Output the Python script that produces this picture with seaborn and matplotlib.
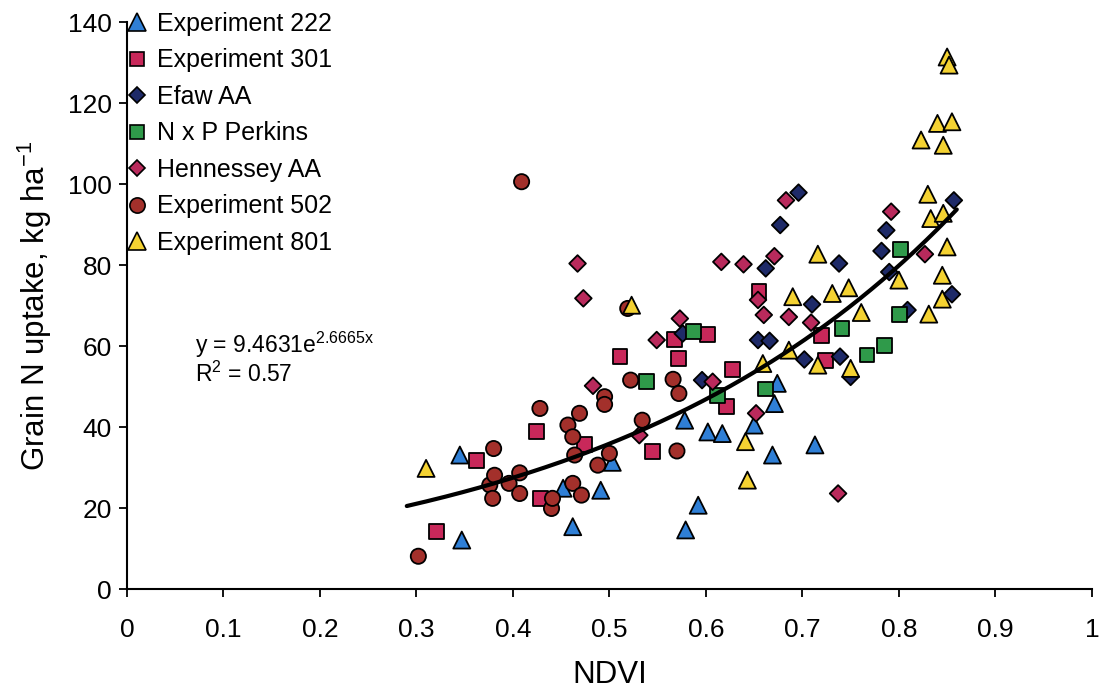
import numpy as np
import pandas as pd
import matplotlib
matplotlib.use("Agg")
import matplotlib.pyplot as plt
import seaborn as sns

# NDVI / grain N uptake (kg/ha) per experiment
exp222_ndvi = [0.345, 0.347, 0.452, 0.462, 0.491, 0.503, 0.578, 0.579, 0.592, 0.602,
               0.617, 0.650, 0.669, 0.671, 0.674, 0.713]
exp222_n = [33.1, 12.1, 24.9, 15.4, 24.4, 31.3, 41.7, 14.6, 20.7, 38.8,
            38.4, 40.5, 33.1, 45.8, 50.8, 35.6]

exp301_ndvi = [0.321, 0.362, 0.424, 0.429, 0.474, 0.511, 0.545, 0.567, 0.572, 0.602,
               0.621, 0.628, 0.655, 0.720, 0.724]
exp301_n = [14.2, 31.7, 38.8, 22.4, 35.6, 57.4, 33.9, 61.7, 57.0, 62.9,
            45.0, 54.2, 73.4, 62.7, 56.5]

efaw_ndvi = [0.576, 0.596, 0.654, 0.666, 0.662, 0.677, 0.696, 0.702, 0.710, 0.738,
             0.739, 0.750, 0.782, 0.787, 0.790, 0.809, 0.855, 0.857]
efaw_n = [63.1, 51.6, 61.5, 61.3, 79.2, 89.9, 97.9, 56.7, 70.3, 80.4,
          57.4, 52.4, 83.5, 88.6, 78.3, 68.9, 72.8, 96.0]

perkins_ndvi = [0.538, 0.587, 0.612, 0.662, 0.741, 0.767, 0.785, 0.801, 0.802]
perkins_n = [51.2, 63.5, 47.7, 49.4, 64.4, 57.8, 60.2, 67.8, 83.9]

henn_ndvi = [0.467, 0.473, 0.483, 0.531, 0.549, 0.573, 0.607, 0.616, 0.639, 0.652,
             0.654, 0.660, 0.671, 0.683, 0.686, 0.709, 0.737, 0.792, 0.827]
henn_n = [80.4, 71.8, 50.2, 38.0, 61.5, 66.8, 51.2, 80.8, 80.2, 43.4,
          71.4, 67.7, 82.2, 96.0, 67.2, 65.8, 23.6, 93.2, 82.7]

exp502_ndvi = [0.302, 0.376, 0.379, 0.380, 0.381, 0.396, 0.407, 0.407, 0.409, 0.428,
               0.440, 0.441, 0.457, 0.462, 0.462, 0.464, 0.469, 0.471, 0.488, 0.495,
               0.495, 0.500, 0.519, 0.522, 0.534, 0.566, 0.570, 0.572]
exp502_n = [8.1, 25.7, 22.4, 34.7, 28.1, 26.1, 28.7, 23.6, 100.6, 44.6,
            19.9, 22.4, 40.5, 37.6, 26.1, 33.1, 43.4, 23.2, 30.6, 47.5,
            45.6, 33.5, 69.3, 51.6, 41.7, 51.8, 34.1, 48.3]

exp801_ndvi = [0.310, 0.523, 0.641, 0.643, 0.659, 0.690, 0.686, 0.716, 0.716, 0.731,
               0.748, 0.750, 0.761, 0.800, 0.823, 0.830, 0.831, 0.833, 0.840, 0.845,
               0.845, 0.846, 0.846, 0.850, 0.850, 0.852, 0.855]
exp801_n = [29.8, 70.1, 36.4, 26.9, 55.7, 72.2, 59.0, 82.7, 55.3, 73.0,
            74.4, 54.5, 68.3, 76.3, 110.9, 97.5, 67.9, 91.5, 115.0, 77.5,
            71.6, 92.8, 109.6, 84.5, 131.4, 129.4, 115.4]

series_names = ["Experiment 222", "Experiment 301", "Efaw AA", "N x P Perkins",
                "Hennessey AA", "Experiment 502", "Experiment 801"]

# exponential fit: y = a * exp(b * NDVI)
fit_a = 9.4631
fit_b = 2.6665
fit_r2 = 0.57
fit_range = (0.29, 0.86)

xticks = [0, 0.1, 0.2, 0.3, 0.4, 0.5, 0.6, 0.7, 0.8, 0.9, 1]
xticklabels = ["0", "0.1", "0.2", "0.3", "0.4", "0.5", "0.6", "0.7", "0.8", "0.9", "1"]
yticks = [0, 20, 40, 60, 80, 100, 120, 140]

frames = []
for name, xs, ys in zip(series_names,
                        [exp222_ndvi, exp301_ndvi, efaw_ndvi, perkins_ndvi,
                         henn_ndvi, exp502_ndvi, exp801_ndvi],
                        [exp222_n, exp301_n, efaw_n, perkins_n,
                         henn_n, exp502_n, exp801_n]):
    frames.append(pd.DataFrame({"NDVI": xs, "uptake": ys, "series": name}))
df = pd.concat(frames, ignore_index=True)

palette = {
    "Experiment 222": "#2f7fd6",
    "Experiment 301": "#c8285a",
    "Efaw AA": "#1e2a68",
    "N x P Perkins": "#2f9a4a",
    "Hennessey AA": "#b92a5c",
    "Experiment 502": "#a3302b",
    "Experiment 801": "#f4d232",
}
markers = {
    "Experiment 222": "^",
    "Experiment 301": "s",
    "Efaw AA": "D",
    "N x P Perkins": "s",
    "Hennessey AA": "D",
    "Experiment 502": "o",
    "Experiment 801": "^",
}
sizes = {
    "Experiment 222": 150,
    "Experiment 301": 115,
    "Efaw AA": 72,
    "N x P Perkins": 115,
    "Hennessey AA": 72,
    "Experiment 502": 120,
    "Experiment 801": 150,
}

sns.set_style("ticks")
plt.rcParams["font.family"] = ["Liberation Sans", "DejaVu Sans"]
plt.rcParams["mathtext.fontset"] = "custom"
plt.rcParams["mathtext.rm"] = "Liberation Sans"
plt.rcParams["mathtext.it"] = "Liberation Sans"
for key in ["text.color", "axes.labelcolor", "xtick.color", "ytick.color"]:
    plt.rcParams[key] = "black"

fig = plt.figure(figsize=(11.04, 6.93), dpi=100)
ax = fig.add_axes([0.115, 0.150, 0.874, 0.818])

sns.scatterplot(data=df, x="NDVI", y="uptake", hue="series", style="series",
                size="series", hue_order=series_names, style_order=series_names,
                size_order=series_names, palette=palette, markers=markers,
                sizes=sizes, edgecolor="black", linewidth=1.3, alpha=1,
                ax=ax, zorder=3)

xf = np.linspace(fit_range[0], fit_range[1], 200)
ax.plot(xf, fit_a * np.exp(fit_b * xf), color="black", lw=3.0, zorder=4)

ax.text(0.070, 60.3, f"y = {fit_a}e$^{{{fit_b}x}}$", fontsize=16.5,
        ha="left", va="center")
ax.text(0.070, 53.0, f"R$^2$ = {fit_r2}", fontsize=16.5, ha="left", va="center")

ax.set_xlim(0, 1)
ax.set_ylim(0, 140)
ax.set_xticks(xticks)
ax.set_xticklabels(xticklabels)
ax.set_yticks(yticks)
ax.tick_params(axis="both", labelsize=19, length=6, width=1.3, direction="out",
               color="black", labelcolor="black")
ax.tick_params(axis="x", pad=15)
ax.tick_params(axis="y", pad=5)
for side in ["top", "right"]:
    ax.spines[side].set_visible(False)
for side in ["left", "bottom"]:
    ax.spines[side].set_linewidth(1.5)
    ax.spines[side].set_color("black")

ax.set_xlabel("NDVI", fontsize=22.5, labelpad=13)
ax.set_ylabel("Grain N uptake, kg ha$^{-1}$", fontsize=22.5, labelpad=10)

handles, labels = ax.get_legend_handles_labels()
leg = ax.legend(handles, labels, loc="upper left", bbox_to_anchor=(0.0, 1.018),
                frameon=False, fontsize=18, handletextpad=0.4, labelspacing=0.5,
                borderpad=0, borderaxespad=0, handlelength=0.8)
for h in leg.legend_handles:
    if hasattr(h, "set_markeredgecolor"):
        h.set_markeredgecolor("black")
        h.set_markeredgewidth(1.2)

fig.savefig("out.png", dpi=100, facecolor="white")
